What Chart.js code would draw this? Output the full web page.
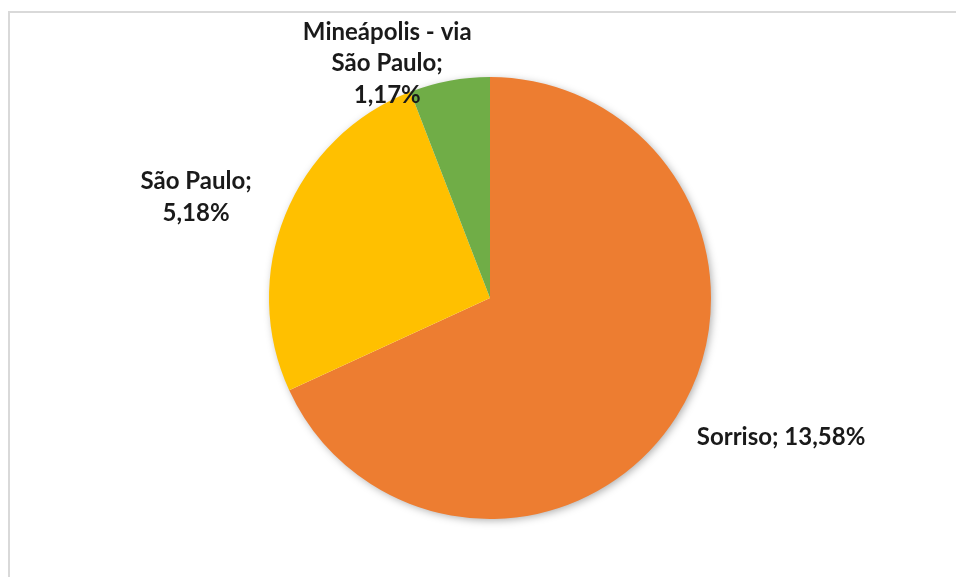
<!DOCTYPE html>
<html>
<head>
<meta charset="utf-8">
<script src="https://cdn.jsdelivr.net/npm/chart.js@4.4.1/dist/chart.umd.min.js"></script>
<style>
  html, body { margin: 0; padding: 0; background: #fff; }
  #wrap { width: 956px; height: 577px; }
</style>
</head>
<body>
<div id="wrap"><canvas id="pieCanvas" width="956" height="577"></canvas></div>
<script>
// data
const categories = ['Sorriso', 'São Paulo', 'Mineápolis - via São Paulo'];
const shares = [13.58, 5.18, 1.17];
const labelLines = [
    ['Sorriso; 13,58%'],
    ['São Paulo;', '5,18%'],
    ['Mineápolis - via', 'São Paulo;', '1,17%']
];
const sliceColors = ['#ED7D31', '#FFC000', '#70AD47'];

// where each label sits, relative to the pie centre, in units of the radius
const labelOffsets = [[1.317, 0.629], [-1.33, -0.455], [-0.465, -1.06]];

const frameAndShadow = {
    id: 'frameAndShadow',
    beforeDraw(chart) {
        const ctx = chart.ctx;
        ctx.save();
        ctx.strokeStyle = '#d9d9d9';
        ctx.lineWidth = 2;
        ctx.strokeRect(9, 12, 1000, 600);
        ctx.restore();
    },
    beforeDatasetsDraw(chart) {
        const arc = chart.getDatasetMeta(0).data[0];
        if (!arc) return;
        const ctx = chart.ctx;
        ctx.save();
        ctx.shadowColor = 'rgba(0,0,0,0.35)';
        ctx.shadowBlur = 8;
        ctx.shadowOffsetX = 2;
        ctx.shadowOffsetY = 2;
        ctx.fillStyle = '#fff';
        ctx.beginPath();
        ctx.arc(arc.x, arc.y, arc.outerRadius - 1, 0, Math.PI * 2);
        ctx.fill();
        ctx.restore();
    }
};

const sliceLabels = {
    id: 'sliceLabels',
    afterDatasetsDraw(chart) {
        const ctx = chart.ctx;
        const meta = chart.getDatasetMeta(0);
        ctx.save();
        ctx.font = 'bold 24px Lato, "Open Sans", sans-serif';
        ctx.fillStyle = '#1a1a1a';
        ctx.textAlign = 'center';
        ctx.textBaseline = 'middle';
        meta.data.forEach((arc, i) => {
            const lines = labelLines[i];
            const cx = arc.x + labelOffsets[i][0] * arc.outerRadius;
            const cy = arc.y + labelOffsets[i][1] * arc.outerRadius;
            const lh = 31.5;
            lines.forEach((t, k) => {
                ctx.fillText(t, cx, cy + (k - (lines.length - 1) / 2) * lh);
            });
        });
        ctx.restore();
    }
};

new Chart(document.getElementById('pieCanvas').getContext('2d'), {
    type: 'pie',
    data: {
        labels: categories,
        datasets: [{
            data: shares,
            backgroundColor: sliceColors,
            borderWidth: 0
        }]
    },
    options: {
        responsive: false,
        animation: false,
        layout: { padding: { top: 77, bottom: 58, left: 24, right: 0 } },
        plugins: {
            legend: { display: false },
            tooltip: { enabled: false }
        }
    },
    plugins: [frameAndShadow, sliceLabels]
});
</script>
</body>
</html>
